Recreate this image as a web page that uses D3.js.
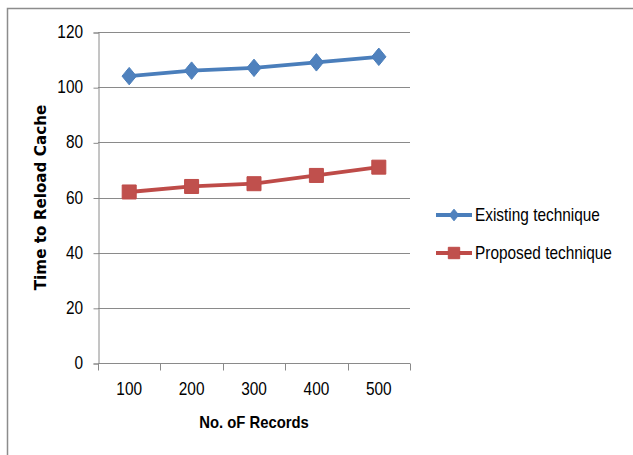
<!DOCTYPE html>
<html>
<head>
<meta charset="utf-8">
<script src="https://cdn.jsdelivr.net/npm/d3@7"></script>
<style>
  html, body { margin: 0; padding: 0; background: #fff; }
  svg { display: block; }
</style>
</head>
<body>
<svg id="chart" width="633" height="455"></svg>
<script>
// Cache reload time by number of records
const records = ["100", "200", "300", "400", "500"];
const existing = [104, 106, 107, 109, 111];
const proposed = [62, 64, 65, 68, 71];
const yTicks = [0, 20, 40, 60, 80, 100, 120];
const seriesNames = ["Existing technique", "Proposed technique"];

const svg = d3.select("#chart");
const W = 633, H = 455;
const plot = { left: 98, right: 410, top: 32, bottom: 363 };
const labelFont = "'Liberation Sans', Arial, sans-serif";
const labelSize = 17.5;
const squeeze = 0.88; // narrow the label glyphs horizontally

// place a horizontally condensed label with its anchor at (px, py)
function label(parent, px, py, txt, anchor, opts = {}) {
  return parent.append("text")
    .attr("transform", `translate(${px},${py}) scale(${opts.sx || squeeze},1)`)
    .attr("text-anchor", anchor)
    .attr("font-family", labelFont)
    .attr("font-size", opts.size || labelSize)
    .attr("font-weight", opts.weight || "normal")
    .attr("fill", "#000")
    .text(txt);
}

// slightly tall diamond; area = size
const tallDiamond = {
  draw(context, size) {
    const k = 1.22; // height / width ratio
    const rx = Math.sqrt(size / (2 * k));
    const ry = rx * k;
    context.moveTo(0, -ry);
    context.lineTo(rx, 0);
    context.lineTo(0, ry);
    context.lineTo(-rx, 0);
    context.closePath();
  }
};

// outer chart frame
svg.append("rect")
  .attr("x", 7.5).attr("y", 8.5)
  .attr("width", W + 10).attr("height", H + 10)
  .attr("fill", "#fff")
  .attr("stroke", "#8c8c8c").attr("stroke-width", 1.5);

const x = d3.scaleBand().domain(records).range([plot.left, plot.right]).padding(0);
const y = d3.scaleLinear().domain([0, 120]).range([plot.bottom, plot.top]);

// horizontal gridlines
svg.append("g")
  .selectAll("line")
  .data(yTicks.filter(d => d > 0))
  .join("line")
  .attr("x1", plot.left).attr("x2", plot.right)
  .attr("y1", d => Math.round(y(d)) + 0.5).attr("y2", d => Math.round(y(d)) + 0.5)
  .attr("stroke", "#8a8a8a").attr("stroke-width", 1);

// y axis
const yAxis = svg.append("g")
  .attr("transform", `translate(${plot.left + 0.5},0.5)`)
  .call(d3.axisLeft(y).tickValues(yTicks).tickSize(5).tickFormat(() => ""));
yAxis.select(".domain").attr("stroke", "#8a8a8a");
yAxis.selectAll(".tick line").attr("stroke", "#8a8a8a");
yAxis.selectAll(".tick text").remove();
yTicks.forEach(t => label(svg, 83, y(t) + 6, d3.format("d")(t), "end"));

// x axis with ticks at category boundaries
const xAxis = svg.append("g")
  .attr("transform", `translate(0,${plot.bottom + 0.5})`);
xAxis.append("line")
  .attr("x1", plot.left).attr("x2", plot.right)
  .attr("stroke", "#8a8a8a");
const boundaries = records.map(r => x(r)).concat([x(records[records.length - 1]) + x.bandwidth()]);
xAxis.selectAll("line.b")
  .data(boundaries)
  .join("line")
  .attr("class", "b")
  .attr("x1", d => Math.round(d) + 0.5).attr("x2", d => Math.round(d) + 0.5)
  .attr("y1", 0).attr("y2", 7)
  .attr("stroke", "#8a8a8a");
records.forEach(r => label(svg, x(r) + x.bandwidth() / 2, 395, r, "middle"));

// axis titles
label(svg, (plot.left + plot.right) / 2, 428, "No. oF Records", "middle",
  { size: 16.5, weight: "bold", sx: 0.9 });

svg.append("text")
  .attr("transform", `translate(46,${(plot.top + plot.bottom) / 2}) rotate(-90)`)
  .attr("text-anchor", "middle")
  .attr("font-family", "'DejaVu Sans', sans-serif").attr("font-size", 15.2).attr("font-weight", "bold")
  .text("Time to Reload Cache");

const cx = d => x(d) + x.bandwidth() / 2;

const series = [
  { name: seriesNames[0], values: existing, line: "#4a7ebb", fill: "#4f81bd",
    sym: d3.symbol().type(tallDiamond).size(125), legendSym: d3.symbol().type(tallDiamond).size(55) },
  { name: seriesNames[1], values: proposed, line: "#be4b48", fill: "#c0504d",
    sym: d3.symbol().type(d3.symbolSquare).size(196), legendSym: d3.symbol().type(d3.symbolSquare).size(130) }
];

const lineGen = d3.line().x((d, i) => cx(records[i])).y(d => y(d));

series.forEach(s => {
  svg.append("path")
    .datum(s.values)
    .attr("d", lineGen)
    .attr("fill", "none")
    .attr("stroke", s.line).attr("stroke-width", 3.8)
    .attr("stroke-linejoin", "round");
  svg.append("g")
    .selectAll("path")
    .data(s.values)
    .join("path")
    .attr("transform", (d, i) => `translate(${cx(records[i])},${y(d)})`)
    .attr("d", s.sym)
    .attr("fill", s.fill).attr("stroke", s.line).attr("stroke-width", 1);
});

// legend
const legend = svg.append("g").attr("transform", "translate(436,215)");
series.forEach((s, i) => {
  const g = legend.append("g").attr("transform", `translate(0,${i * 38})`);
  g.append("line").attr("x1", 0).attr("x2", 36).attr("y1", 0).attr("y2", 0)
    .attr("stroke", s.line).attr("stroke-width", 3.8);
  g.append("path").attr("transform", "translate(18,0)").attr("d", s.legendSym)
    .attr("fill", s.fill).attr("stroke", s.line).attr("stroke-width", 1);
  label(g, 39, 6, s.name, "start");
});
</script>
</body>
</html>
